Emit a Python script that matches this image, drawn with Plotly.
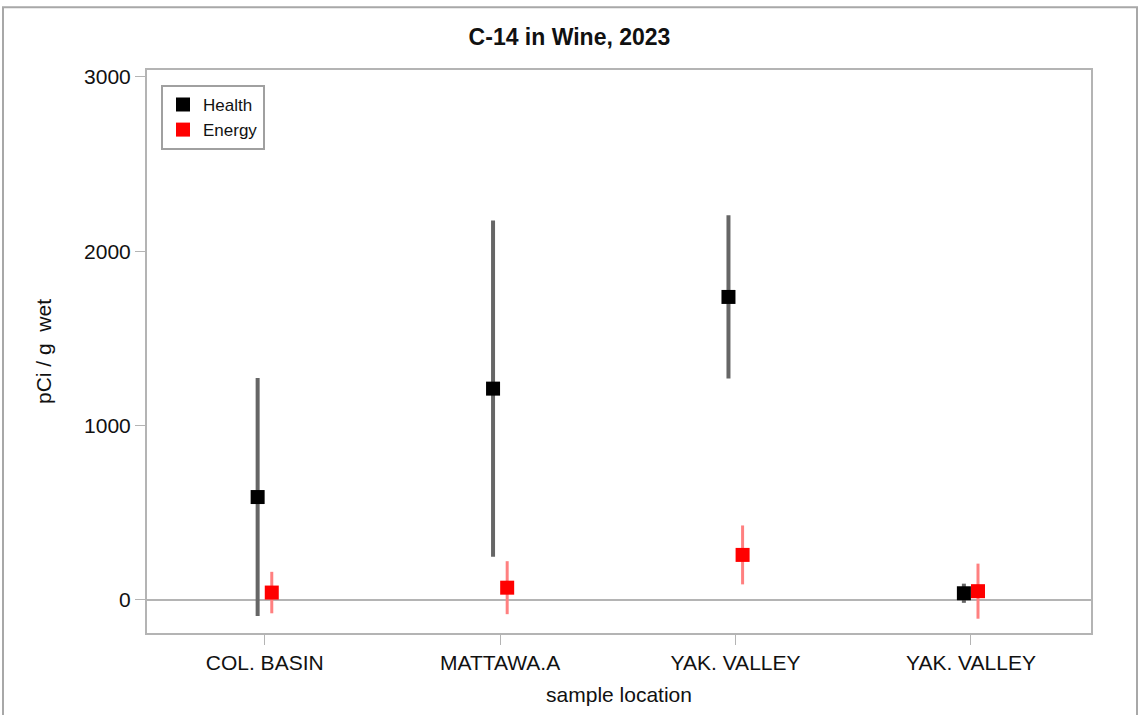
import plotly.graph_objects as go

categories = ["COL. BASIN", "MATTAWA.A", "YAK. VALLEY", "YAK. VALLEY"]
health_values = [590, 1212, 1738, 38]
health_errors = [683, 965, 468, 55]
energy_values = [42, 70, 258, 50]
energy_errors = [119, 152, 169, 158]
y_tick_values = [0, 1000, 2000, 3000]

idx = list(range(len(categories)))
health_x = [i - 0.03 for i in idx]
energy_x = [i + 0.03 for i in idx]

FONT = "Arial, Liberation Sans, sans-serif"
GRAY = "#b4b4b4"

fig = go.Figure()
fig.add_trace(go.Scatter(
    x=health_x, y=health_values, mode="markers", name="Health",
    marker=dict(symbol="square", size=14, color="black"),
    error_y=dict(type="data", array=health_errors, visible=True,
                 color="#666666", thickness=4, width=0),
))
fig.add_trace(go.Scatter(
    x=energy_x, y=energy_values, mode="markers", name="Energy",
    marker=dict(symbol="square", size=14, color="#ff0000"),
    error_y=dict(type="data", array=energy_errors, visible=True,
                 color="#ff8080", thickness=3, width=0),
))

# outer frame of the picture
W, H = 1139, 715
l, r, t, b = 147, 48, 70, 80
pw, ph = W - l - r, H - t - b
def px(xp): return (xp - l) / pw
def py(yp): return (H - b - yp) / ph
fig.add_shape(type="rect", xref="paper", yref="paper",
              x0=px(3), x1=px(1137), y0=py(720), y1=py(7),
              line=dict(color="#a8a8a8", width=2), layer="below")

fig.update_layout(
    width=W, height=H,
    margin=dict(l=l, r=r, t=t, b=b),
    paper_bgcolor="white", plot_bgcolor="white",
    font=dict(family=FONT, size=21, color="#111111"),
    title=dict(text="<b>C-14 in Wine, 2023</b>", x=0.5, xanchor="center",
               y=1 - 37 / H, yanchor="middle",
               font=dict(family=FONT, size=23, color="#111111")),
    showlegend=True,
    legend=dict(x=px(161), y=py(85), xanchor="left", yanchor="top",
                bgcolor="white", bordercolor="#a0a0a0", borderwidth=2,
                font=dict(family=FONT, size=17, color="#111111"),
                itemsizing="trace", tracegroupgap=0),
)
fig.update_xaxes(
    range=[-0.5, 3.51], tickmode="array", tickvals=idx, ticktext=categories,
    showgrid=False, zeroline=False, showline=True, mirror=True,
    linecolor=GRAY, linewidth=2, ticks="outside", ticklen=10, tickcolor=GRAY,
    tickfont=dict(family=FONT, size=21, color="#111111"),
    title=dict(text="sample location", standoff=14,
               font=dict(family=FONT, size=21, color="#111111")),
)
fig.update_yaxes(
    range=[-190, 3040], tickmode="array", tickvals=y_tick_values,
    showgrid=False, zeroline=True, zerolinecolor=GRAY, zerolinewidth=2,
    showline=True, mirror=True, linecolor=GRAY, linewidth=2,
    ticks="outside", ticklen=10, tickcolor=GRAY,
    tickfont=dict(family=FONT, size=21, color="#111111"),
    title=dict(text="pCi / g  wet", standoff=27,
               font=dict(family=FONT, size=21, color="#111111")),
)

fig.write_html("out.html", config={"displayModeBar": False},
               post_script="document.body.style.margin='0';document.body.style.overflow='hidden';")
